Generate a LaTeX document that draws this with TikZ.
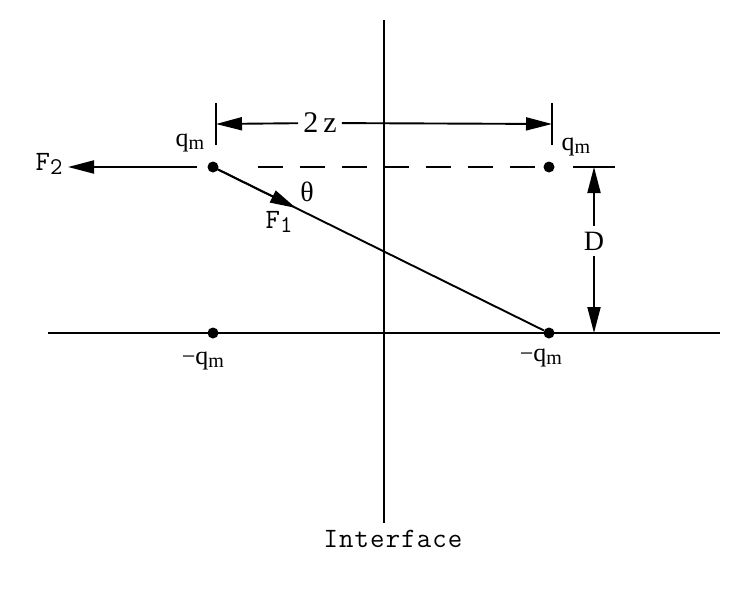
\documentclass[tikz,border=0pt]{standalone}
\usepackage{fontspec}
\setmainfont{Liberation Serif}
\newfontfamily\monofnt[LetterSpace=4]{Latin Modern Mono}
\usetikzlibrary{arrows.meta}
\newcommand{\qmag}{{\fontsize{26}{26}\selectfont q\raisebox{-3pt}{\fontsize{20}{20}\selectfont m}}}
\tikzset{
  x=1pt, y=-1pt,
  ln/.style={line width=1.9pt},
  tipped/.style={ln, -{Triangle[length=26pt,width=13pt]}},
  charge/.style={circle, fill=black, inner sep=0pt, minimum size=11pt},
  lbl/.style={inner sep=0pt, font=\fontsize{28}{28}\selectfont},
  mlbl/.style={inner sep=0pt, font=\monofnt\fontsize{28}{28}\selectfont},
}
\begin{document}
\begin{tikzpicture}
\useasboundingbox (0,0) rectangle (746,594);
% axes
\coordinate (itop) at (384,20);
\coordinate (ibot) at (384,523);
\coordinate (gl) at (48,333);
\coordinate (gr) at (720,333);
\draw[ln] (itop) -- (ibot);
\draw[ln] (gl) -- (gr);
% charges
\node[charge] (ul) at (213,167) {};
\node[charge] (ur) at (549,167) {};
\node[charge] (ll) at (213,333) {};
\node[charge] (lr) at (549,333) {};
% labels of charges
\node[inner sep=0pt] (qul) at (190,143) {\qmag};
\node[inner sep=0pt] (qur) at (576,147) {\qmag};
\node[inner sep=0pt] (qll) at (203,361) {{\fontsize{24}{24}\selectfont −}\qmag};
\node[inner sep=0pt] (qlr) at (541,358) {{\fontsize{24}{24}\selectfont −}\qmag};
% dashed line
\coordinate (dstart) at (258,167);
\draw[ln, dash pattern=on 25pt off 17pt] (dstart) -- (ur);
% line between ul and lr
\draw[ln] (ul) -- (lr);
% F1
\coordinate (f1tip) at (296,208);
\draw[tipped] (ul.center) -- (f1tip);
\node[mlbl] (f1) at (279,222) {F\raisebox{-4pt}{\fontsize{24}{24}\selectfont 1}};
\node[lbl] (theta) at (307,192) {θ};
% F2
\coordinate (f2start) at (197,167);
\coordinate (f2tip) at (68,167);
\draw[tipped] (f2start) -- (f2tip);
\node[mlbl] (f2) at (49,164) {F\raisebox{-4pt}{\fontsize{24}{24}\selectfont 2}};
% 2z dimension
\coordinate (tlt) at (216,103);
\coordinate (tlb) at (216,145);
\coordinate (trt) at (552,103);
\coordinate (trb) at (552,145);
\draw[ln] (tlt) -- (tlb);
\draw[ln] (trt) -- (trb);
\coordinate (tl) at (216,124);
\coordinate (tr) at (552,124);
\node[lbl, fill=white, inner xsep=5pt, font=\fontsize{30}{30}\selectfont] (twoz) at (320,123) {2\,z};
\draw[tipped] (twoz) -- (tl);
\draw[tipped] (twoz) -- (tr);
% D dimension
\coordinate (ext1) at (573,167);
\coordinate (ext2) at (615,167);
\draw[ln] (ext1) -- (ext2);
\coordinate (dtop) at (594,167);
\coordinate (dbot) at (594,333);
\node[lbl, fill=white, inner ysep=6pt] (dl) at (594,241) {D};
\draw[tipped] (dl) -- (dtop);
\draw[tipped] (dl) -- (dbot);
% Interface
\node[mlbl, anchor=base] (iface) at (393,547) {Interface};
\end{tikzpicture}
\end{document}
